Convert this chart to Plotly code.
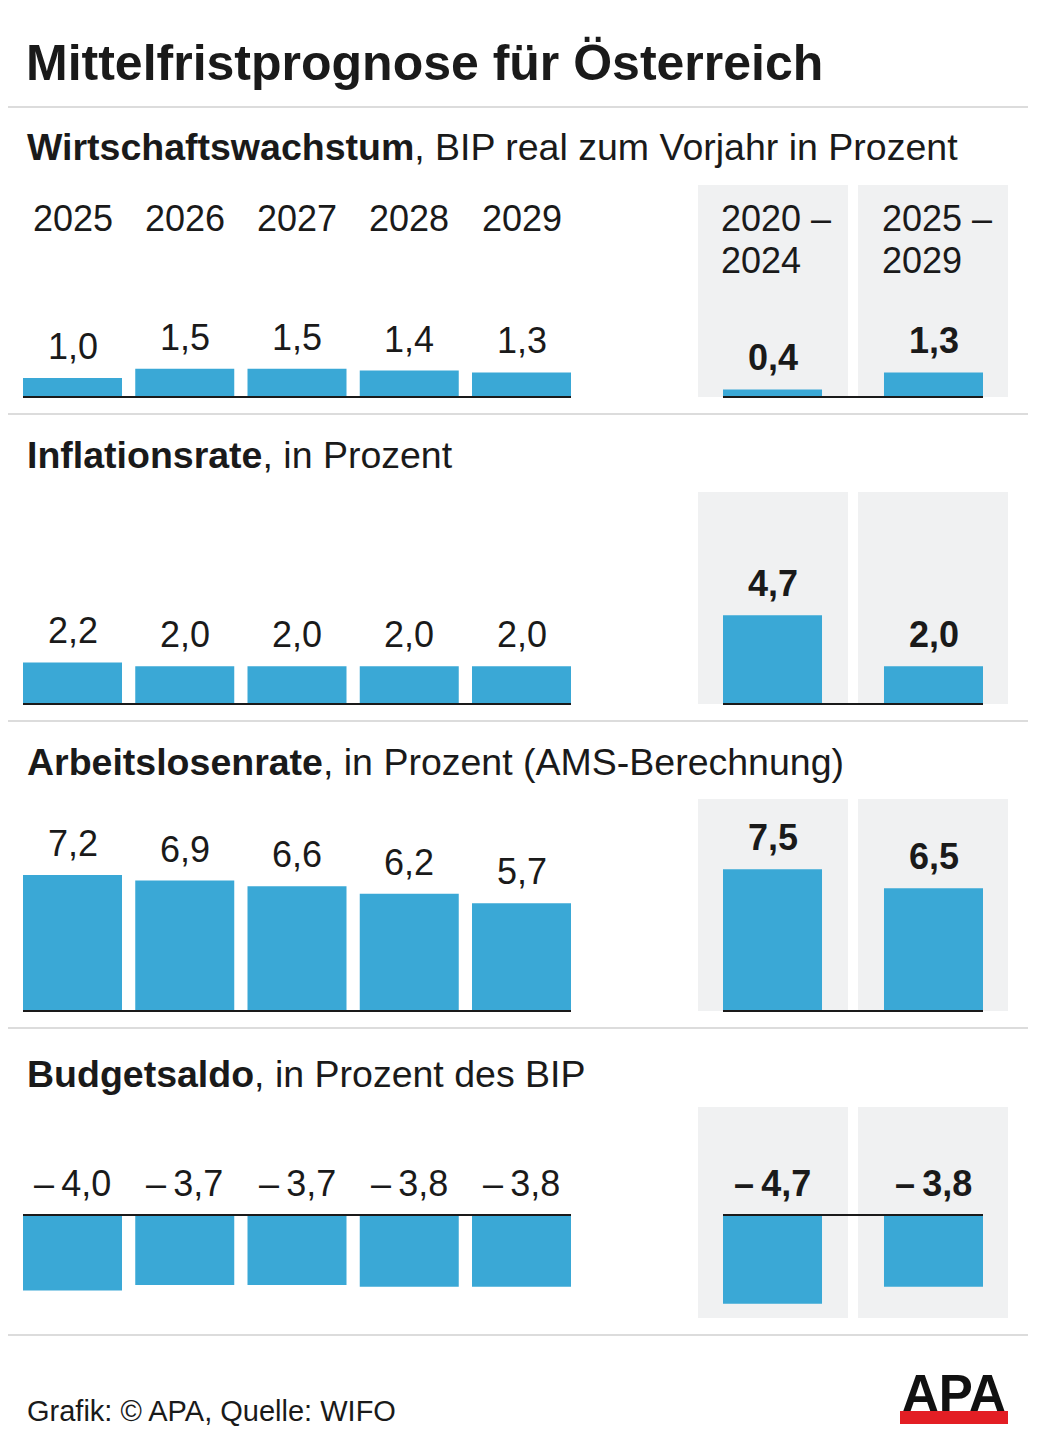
import plotly.graph_objects as go

# The page body has an 8px default margin; the figure is sized/offset to compensate.
OFF = 8
W, H = 1039 - 2 * OFF, 1441 - 2 * OFF
FONT = "Liberation Sans, Arial, Helvetica, sans-serif"
INK = "#1a1a1a"
BLUE = "#3aa8d6"
BOXGRAY = "#f0f1f2"
SEPGRAY = "#dcdcdc"

# ---------------- data ----------------
title = "Mittelfristprognose für Österreich"
panel_bold = ["Wirtschaftswachstum", "Inflationsrate", "Arbeitslosenrate", "Budgetsaldo"]
panel_rest = [", BIP real zum Vorjahr in Prozent", ", in Prozent",
              ", in Prozent (AMS-Berechnung)", ", in Prozent des BIP"]
years = ["2025", "2026", "2027", "2028", "2029"]
periods = ["2020–2024", "2025–2029"]
period_line1 = ["2020 –", "2025 –"]
period_line2 = ["2024", "2029"]

wachstum = [1.0, 1.5, 1.5, 1.4, 1.3]
wachstum_avg = [0.4, 1.3]
inflation = [2.2, 2.0, 2.0, 2.0, 2.0]
inflation_avg = [4.7, 2.0]
arbeitslosen = [7.2, 6.9, 6.6, 6.2, 5.7]
arbeitslosen_avg = [7.5, 6.5]
budget = [-4.0, -3.7, -3.7, -3.8, -3.8]
budget_avg = [-4.7, -3.8]

series_left = [wachstum, inflation, arbeitslosen, budget]
series_right = [wachstum_avg, inflation_avg, arbeitslosen_avg, budget_avg]

source = "Grafik: © APA, Quelle: WIFO"

# ---------------- layout helpers ----------------
def px(p):
    return (p - OFF) / W

def py(p):
    return 1 - (p - OFF) / H

def fmt(v):
    s = f"{abs(v):.1f}".replace(".", ",")
    return ("–\u2009" + s) if v < 0 else s

K = 18.9                 # pixels per unit
UP, DOWN = 160, 95       # pixel room above / below baseline in each axis
baselines = [397, 704, 1011, 1215]
box_tops = [185, 492, 799, 1107]
box_bottoms = [397, 704, 1011, 1318]
sub_centers = [147, 455, 762, 1074]
sep_lines = [107, 414, 721, 1028, 1335]

W_LEFT = 0.882
W_RIGHT = 0.615

fig = go.Figure()
layout = dict(
    width=W, height=H,
    margin=dict(l=0, r=0, t=0, b=0),
    paper_bgcolor="white", plot_bgcolor="rgba(0,0,0,0)",
    showlegend=False,
    font=dict(family=FONT, color=INK),
)
shapes = []
annotations = []

for i in range(4):
    B = baselines[i]
    ydom = [py(B + DOWN), py(B - UP)]
    yrange = [-DOWN / K, UP / K]
    for j, (cats, vals, xdom, bw, bold) in enumerate([
        (years, series_left[i], [px(23), px(571)], W_LEFT, False),
        (periods, series_right[i], [px(723), px(983)], W_RIGHT, True),
    ]):
        n = 2 * i + j + 1
        xname = "x" if n == 1 else f"x{n}"
        yname = "y" if n == 1 else f"y{n}"
        xkey = "xaxis" if n == 1 else f"xaxis{n}"
        ykey = "yaxis" if n == 1 else f"yaxis{n}"
        ncat = len(cats)
        layout[xkey] = dict(domain=xdom, anchor=yname, type="category",
                            categoryorder="array", categoryarray=cats,
                            range=[-bw / 2, ncat - 1 + bw / 2],
                            showticklabels=False, showgrid=False, zeroline=False,
                            showline=False, ticks="", fixedrange=True)
        layout[ykey] = dict(domain=ydom, anchor=xname, range=yrange,
                            showticklabels=False, showgrid=False, zeroline=False,
                            showline=False, ticks="", fixedrange=True)
        fig.add_trace(go.Bar(x=cats, y=vals, width=bw, xaxis=xname, yaxis=yname,
                             marker=dict(color=BLUE, line=dict(width=0)),
                             hoverinfo="skip"))
        # baseline
        shapes.append(dict(type="line", xref=f"{xname} domain", yref=yname,
                           x0=0, x1=1, y0=0, y1=0, layer="above",
                           line=dict(color=INK, width=2)))
        # value labels (category index positions)
        for idx, v in enumerate(vals):
            txt = fmt(v)
            if bold:
                txt = f"<b>{txt}</b>"
            annotations.append(dict(xref=xname, yref=yname, x=idx, y=max(v, 0),
                                    text=txt, showarrow=False, yanchor="bottom",
                                    xanchor="center", yshift=9,
                                    font=dict(size=36, family=FONT, color=INK)))
    # grey boxes behind averages
    for (x0, x1) in [(698, 848), (858, 1008)]:
        shapes.append(dict(type="rect", xref="paper", yref="paper",
                           x0=px(x0), x1=px(x1), y0=py(box_bottoms[i]), y1=py(box_tops[i]),
                           fillcolor=BOXGRAY, line=dict(width=0), layer="below"))
    # panel subtitle
    annotations.append(dict(xref="paper", yref="paper", x=px(25), y=py(sub_centers[i]),
                            text=f"<b>{panel_bold[i]}</b>{panel_rest[i]}",
                            showarrow=False, xanchor="left", yanchor="middle",
                            font=dict(size=37.5, family=FONT, color=INK)))

# separators
for yy in sep_lines:
    shapes.append(dict(type="line", xref="paper", yref="paper",
                       x0=px(7), x1=px(1028), y0=py(yy), y1=py(yy),
                       line=dict(color=SEPGRAY, width=2)))

# year labels (panel 1)
for idx, c in enumerate(years):
    annotations.append(dict(xref="x", yref="paper", x=idx, y=py(219), text=c,
                            showarrow=False, xanchor="center", yanchor="middle",
                            font=dict(size=36, family=FONT, color=INK)))
for idx, (l1, l2) in enumerate(zip(period_line1, period_line2)):
    for t, yc in [(l1, 219), (l2, 260)]:
        annotations.append(dict(xref="x2", yref="paper", x=idx, y=py(yc), text=t,
                                showarrow=False, xanchor="left", xshift=-54,
                                yanchor="middle",
                                font=dict(size=36, family=FONT, color=INK)))

# title
annotations.append(dict(xref="paper", yref="paper", x=px(24), y=py(63),
                        text=f"<b>{title}</b>", showarrow=False,
                        xanchor="left", yanchor="middle",
                        font=dict(size=50, family=FONT, color=INK)))

# footer
annotations.append(dict(xref="paper", yref="paper", x=px(25), y=py(1411),
                        text=source, showarrow=False, xanchor="left", yanchor="middle",
                        font=dict(size=29, family=FONT, color=INK)))

# APA logo
shapes.append(dict(type="rect", xref="paper", yref="paper",
                   x0=px(900), x1=px(1008), y0=py(1424), y1=py(1411),
                   fillcolor="#e31e24", line=dict(width=0), layer="above"))
annotations.append(dict(xref="paper", yref="paper", x=px(954), y=py(1393),
                        text="<b>APA</b>", showarrow=False, xanchor="center", yanchor="middle",
                        font=dict(size=51, family=FONT, color="#111111")))

layout["shapes"] = shapes
layout["annotations"] = annotations
fig.update_layout(**layout)
fig.write_html("out.html")
